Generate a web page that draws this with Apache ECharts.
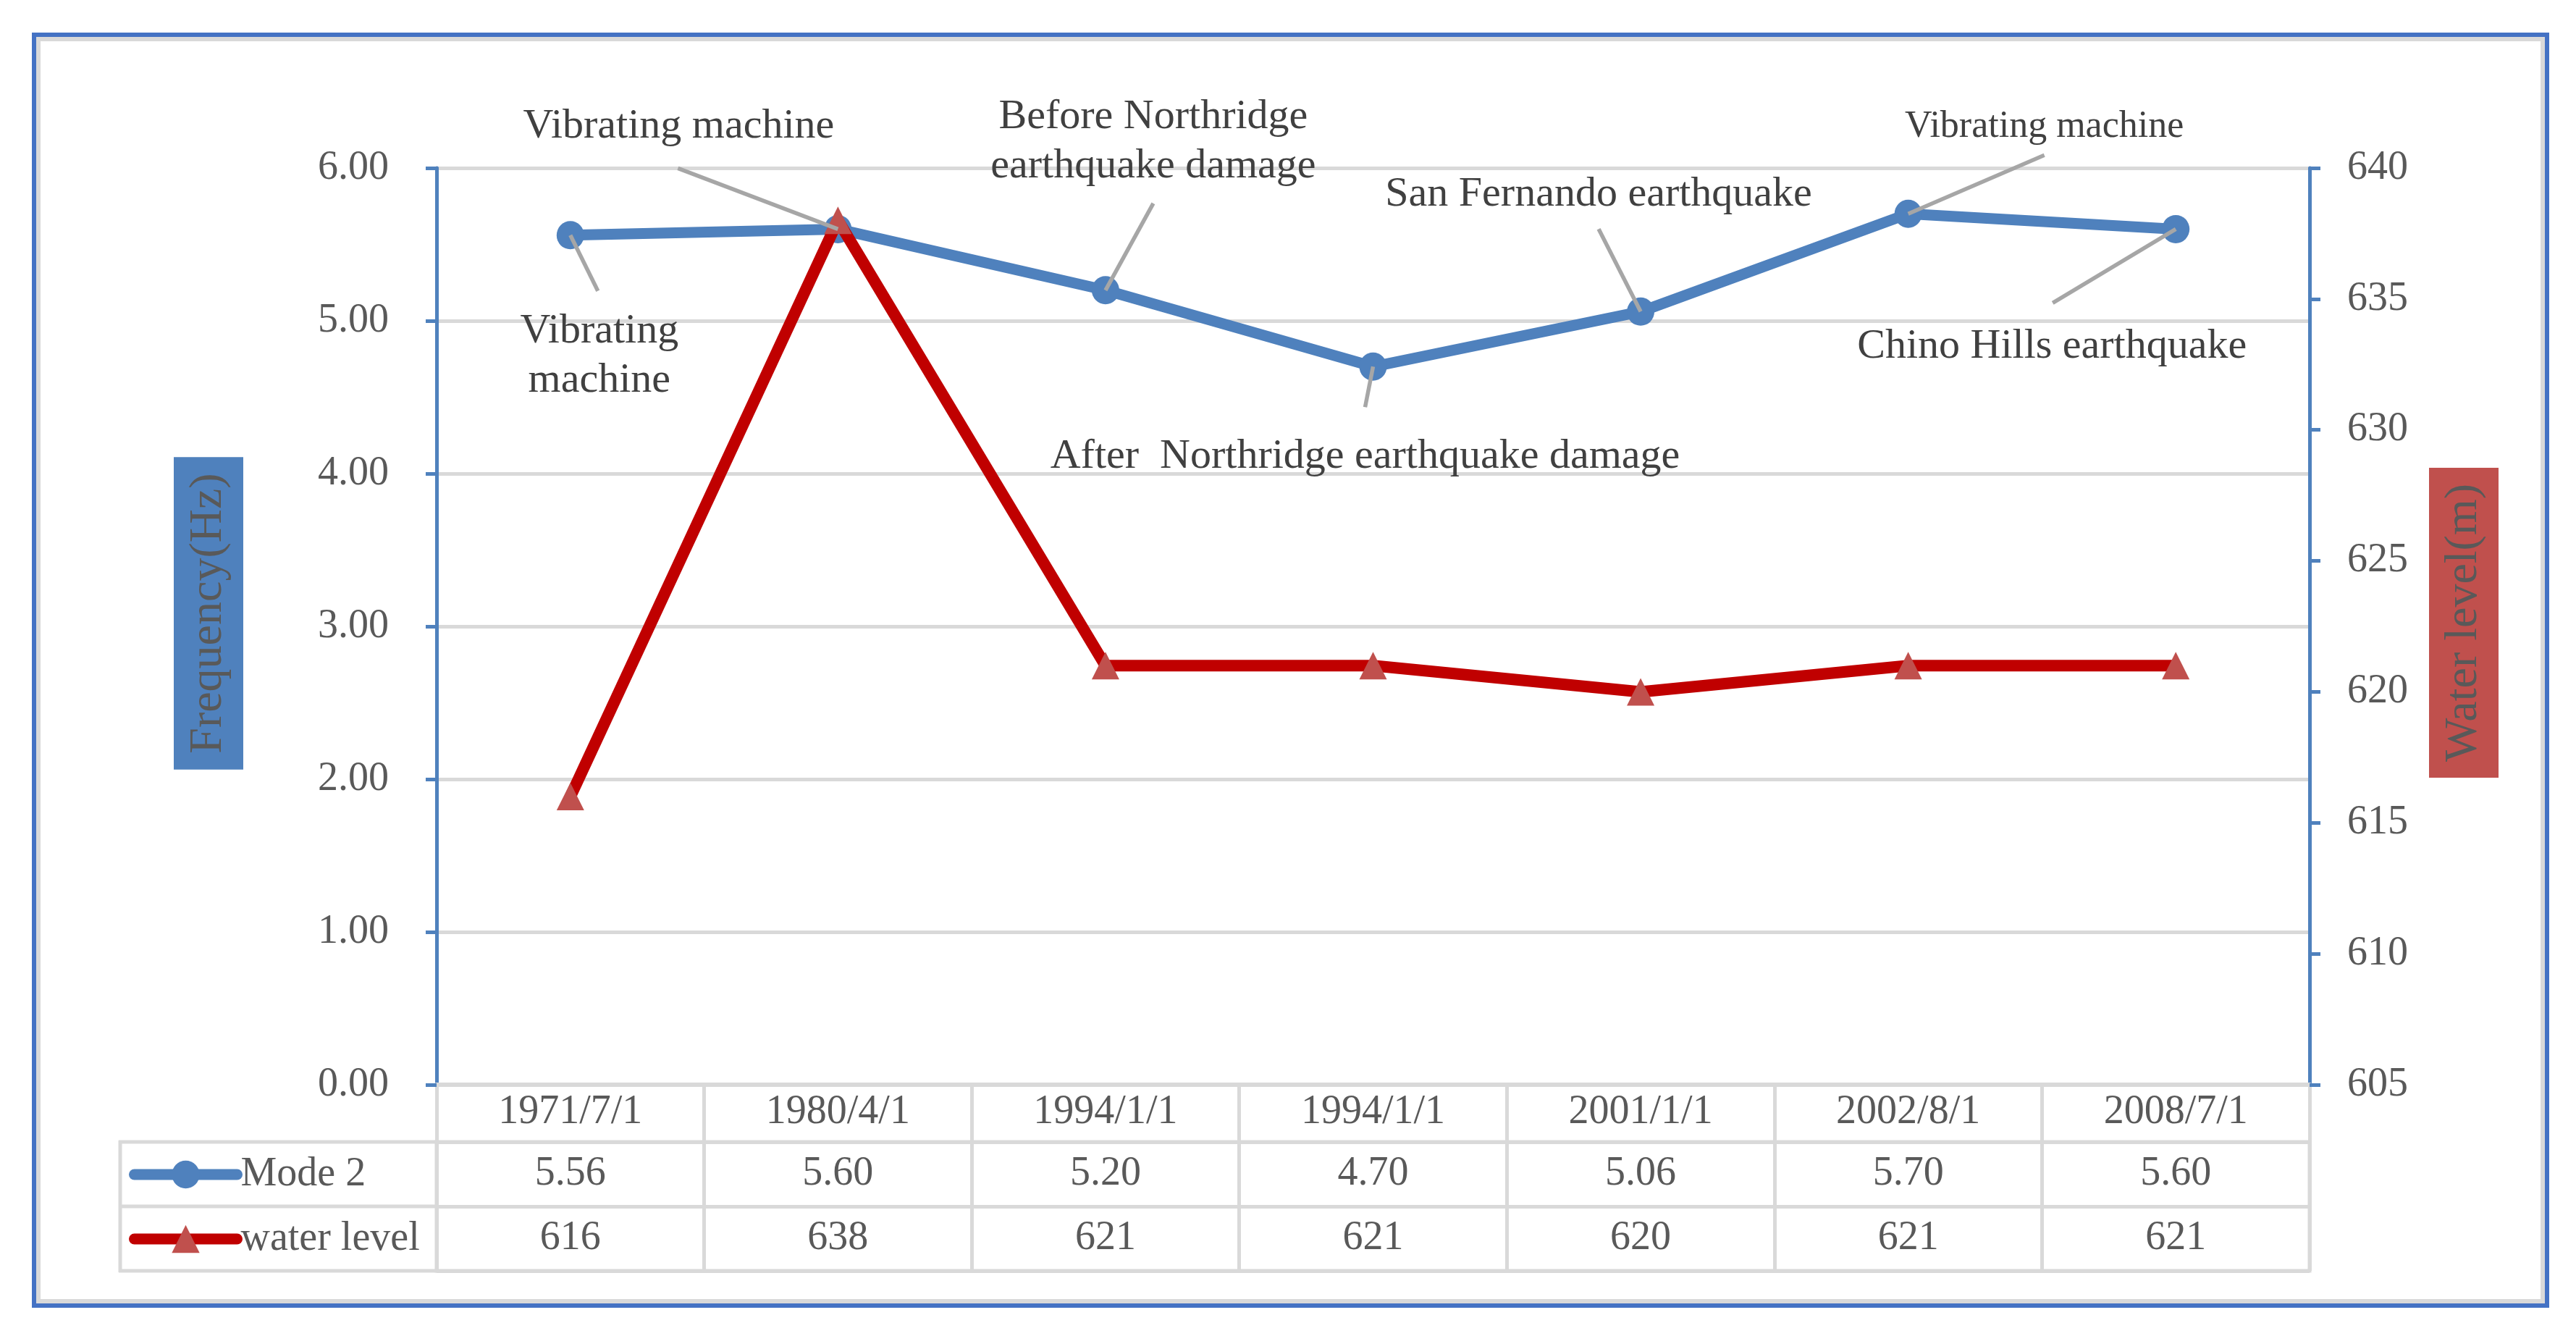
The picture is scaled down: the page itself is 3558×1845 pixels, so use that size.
<!DOCTYPE html>
<html><head><meta charset="utf-8">
<script src="https://cdn.jsdelivr.net/npm/echarts@6/dist/echarts.min.js"></script>
<style>html,body{margin:0;padding:0;background:#fff}#c{width:3558px;height:1845px}</style>
</head><body><div id="c"></div>
<script>
// ---------- data ----------
const categories = ['1971/7/1','1980/4/1','1994/1/1','1994/1/1','2001/1/1','2002/8/1','2008/7/1'];
const mode2 = [5.56, 5.60, 5.20, 4.70, 5.06, 5.70, 5.60];
const waterLevel = [616, 638, 621, 621, 620, 621, 621];
const seriesNames = ['Mode 2', 'water level'];
const freqAxis = {min: 0, max: 6, interval: 1};
const waterAxis = {min: 605, max: 640, interval: 5};
const notes = ['Vibrating\nmachine', 'Vibrating machine', 'Before Northridge\nearthquake damage',
  'After  Northridge earthquake damage', 'San Fernando earthquake', 'Vibrating machine', 'Chino Hills earthquake'];

// ---------- layout (callout offsets relative to the point) ----------
const noteLayout = [
  {lx: 38, ly: 77, tx: 40, ty: 167, fs: 58},
  {lx: -221, ly: -84, tx: -220, ty: -142, fs: 58},
  {lx: 66, ly: -120, tx: 66, ty: -205, fs: 58},
  {lx: -11, ly: 56, tx: -11, ty: 124, fs: 58},
  {lx: -58, ly: -114, tx: -58, ty: -162, fs: 58},
  {lx: 188, ly: -81, tx: 188, ty: -120, fs: 52},
  {lx: -170, ly: 102, tx: -171, ty: 162, fs: 58}
];
const FF = '"Liberation Serif", "Times New Roman", serif';
const TXT = '#595959';
const GRAY = '#d9d9d9';
const BLUE = '#4f81bd';
const RED = '#c00000';
const RED_MK = '#c0504d';

const chart = echarts.init(document.getElementById('c'), null, {renderer: 'canvas'});

function cellText(values, row, fmt) {
  return {
    type: 'custom', xAxisIndex: 1, yAxisIndex: 2, silent: true, z: 5,
    data: values.map((v, i) => [i, row]),
    renderItem: (params, api) => {
      const p = api.coord([api.value(0), api.value(1)]);
      return {type: 'text', x: p[0], y: p[1],
        style: {text: fmt(values[params.dataIndex]), fontSize: 56, fontFamily: FF, fill: TXT,
          align: 'center', verticalAlign: 'middle'}};
    }
  };
}

const option = {
  animation: false,
  backgroundColor: '#ffffff',
  grid: [
    {left: 603, right: 368, top: 232, height: 1266, outerBoundsMode: 'none'},
    {left: 603, right: 368, top: 1577, height: 178, show: true, borderColor: GRAY, borderWidth: 5, outerBoundsMode: 'none'},
    {left: 603, right: 368, top: 1498, height: 79, outerBoundsMode: 'none'}
  ],
  legend: {
    orient: 'vertical', left: 178, top: 1594, padding: 0,
    itemWidth: 142, itemHeight: 48, itemGap: 33,
    textStyle: {fontSize: 56, fontFamily: FF, color: TXT, lineHeight: 56},
    data: [
      {name: seriesNames[0], lineStyle: {width: 15, color: BLUE, cap: 'round'}, itemStyle: {color: BLUE}},
      {name: seriesNames[1], lineStyle: {width: 15, color: RED, cap: 'round'}, itemStyle: {color: RED_MK}}
    ]
  },
  xAxis: [
    {type: 'category', gridIndex: 0, data: categories, boundaryGap: true,
      axisLine: {show: true, lineStyle: {color: GRAY, width: 6}},
      axisTick: {show: false},
      axisLabel: {interval: 0, margin: 10, fontSize: 56, fontFamily: FF, color: TXT, lineHeight: 56},
      splitLine: {show: false}},
    {type: 'category', gridIndex: 1, data: categories, boundaryGap: true,
      axisLine: {show: false}, axisTick: {show: false}, axisLabel: {show: false},
      splitLine: {show: true, interval: 0, lineStyle: {color: GRAY, width: 5}}},
    {type: 'category', gridIndex: 2, data: categories, boundaryGap: true,
      axisLine: {show: false}, axisTick: {show: false}, axisLabel: {show: false},
      splitLine: {show: true, interval: 0, lineStyle: {color: GRAY, width: 5}}}
  ],
  yAxis: [
    {type: 'value', gridIndex: 0, position: 'left', min: freqAxis.min, max: freqAxis.max, interval: freqAxis.interval,
      axisLine: {show: true, lineStyle: {color: BLUE, width: 5}},
      axisTick: {show: true, length: 15, lineStyle: {color: BLUE, width: 5}},
      axisLabel: {formatter: v => v.toFixed(2), margin: 66, fontSize: 56, fontFamily: FF, color: TXT},
      splitLine: {show: true, lineStyle: {color: GRAY, width: 5}}},
    {type: 'value', gridIndex: 0, position: 'right', min: waterAxis.min, max: waterAxis.max, interval: waterAxis.interval,
      axisLine: {show: true, lineStyle: {color: BLUE, width: 5}},
      axisTick: {show: true, length: 15, lineStyle: {color: BLUE, width: 5}},
      axisLabel: {margin: 52, fontSize: 56, fontFamily: FF, color: TXT},
      splitLine: {show: false}},
    {type: 'category', gridIndex: 1, inverse: true, data: seriesNames, boundaryGap: true,
      axisLine: {show: false}, axisTick: {show: false}, axisLabel: {show: false},
      splitLine: {show: true, interval: 0, lineStyle: {color: GRAY, width: 5}}},
    {type: 'category', gridIndex: 2, data: [''], show: false}
  ],
  series: [
    {name: seriesNames[0], type: 'line', xAxisIndex: 0, yAxisIndex: 0, data: mode2, z: 3,
      symbol: 'circle', symbolSize: [38, 39], showSymbol: true,
      lineStyle: {width: 15, color: BLUE}, itemStyle: {color: BLUE}},
    {name: seriesNames[1], type: 'line', xAxisIndex: 0, yAxisIndex: 1, data: waterLevel, z: 4,
      symbol: 'triangle', symbolSize: [38, 38], showSymbol: true,
      lineStyle: {width: 16, color: RED}, itemStyle: {color: RED_MK}},
    {type: 'custom', xAxisIndex: 0, yAxisIndex: 0, z: 6, silent: true,
      data: mode2.map((v, i) => [i, v]),
      renderItem: (params, api) => {
        const i = params.dataIndex;
        const p = api.coord([api.value(0), api.value(1)]);
        const L = noteLayout[i];
        return {type: 'group', children: [
          {type: 'line', shape: {x1: p[0], y1: p[1], x2: p[0] + L.lx, y2: p[1] + L.ly},
            style: {stroke: '#a6a6a6', lineWidth: 5.5}},
          {type: 'text', x: p[0] + L.tx, y: p[1] + L.ty,
            style: {text: notes[i], fontSize: L.fs, fontFamily: FF, fill: '#404040',
              align: 'center', verticalAlign: 'middle', lineHeight: 68}}
        ]};
      }},
    cellText(mode2, 0, v => v.toFixed(2)),
    cellText(waterLevel, 1, v => String(v))
  ],
  graphic: [
    {type: 'rect', shape: {x: 47, y: 48, width: 3471, height: 1755}, style: {fill: 'none', stroke: '#4472c4', lineWidth: 6}, silent: true},
    {type: 'rect', shape: {x: 53, y: 54, width: 3459, height: 1743}, style: {fill: 'none', stroke: GRAY, lineWidth: 6}, silent: true},
    {type: 'line', shape: {x1: 166, y1: 1575, x2: 166, y2: 1757}, style: {stroke: GRAY, lineWidth: 5}, silent: true},
    {type: 'line', shape: {x1: 164, y1: 1577, x2: 603, y2: 1577}, style: {stroke: GRAY, lineWidth: 5}, silent: true},
    {type: 'line', shape: {x1: 164, y1: 1666, x2: 603, y2: 1666}, style: {stroke: GRAY, lineWidth: 5}, silent: true},
    {type: 'line', shape: {x1: 164, y1: 1755, x2: 603, y2: 1755}, style: {stroke: GRAY, lineWidth: 5}, silent: true},
    {type: 'text', x: 288, y: 847, rotation: Math.PI / 2, silent: true,
      style: {text: 'Frequency(Hz)', fontSize: 64, fontFamily: FF, fill: TXT, align: 'center', verticalAlign: 'middle',
        lineHeight: 64, backgroundColor: BLUE, padding: [16, 22, 16, 22]}},
    {type: 'text', x: 3403, y: 860, rotation: Math.PI / 2, silent: true,
      style: {text: 'Water level(m)', fontSize: 64, fontFamily: FF, fill: TXT, align: 'center', verticalAlign: 'middle',
        lineHeight: 64, backgroundColor: RED_MK, padding: [16, 22, 16, 22]}}
  ]
};
chart.setOption(option);
</script>
</body></html>
